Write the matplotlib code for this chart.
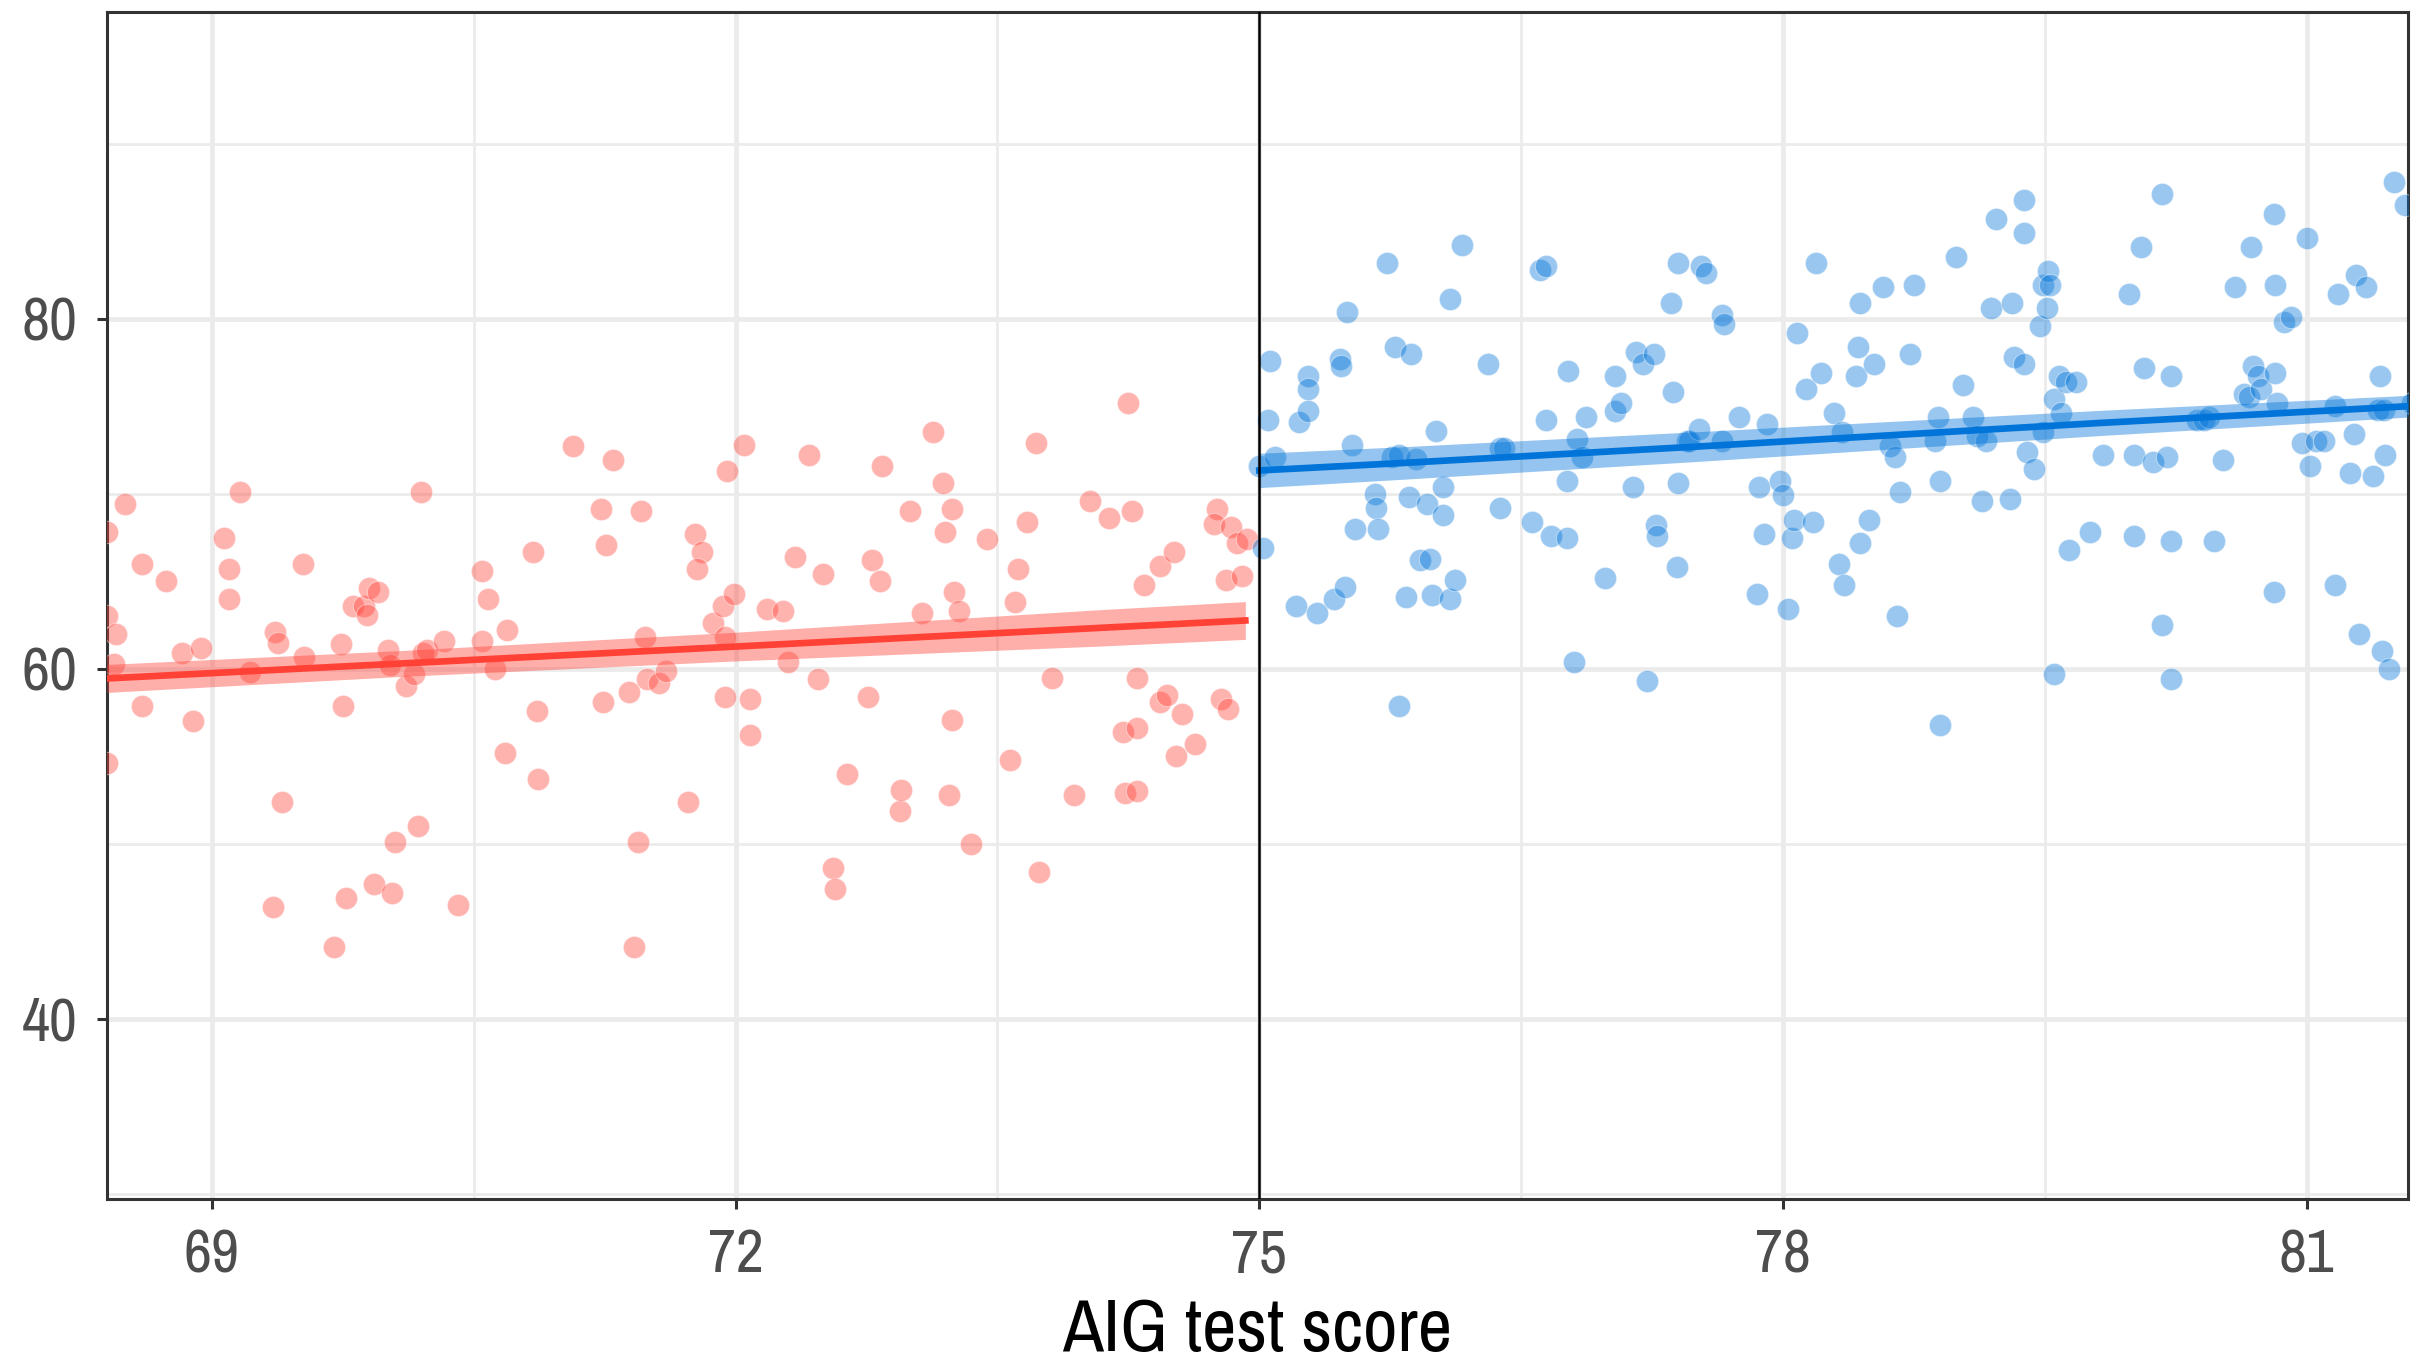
import numpy as np
import matplotlib.pyplot as plt
from matplotlib.ticker import MultipleLocator
from matplotlib import font_manager

# below cutoff (red)
below_x = [68.40, 68.40, 68.45, 68.44, 68.50, 68.60, 68.60, 68.40, 68.74, 68.83, 68.89, 68.94,
           69.07, 69.10, 69.10, 69.16, 69.22, 69.36, 69.38, 69.35, 69.40, 69.53, 69.52, 69.70,
           69.74, 69.75, 69.77, 69.81, 69.87, 69.89, 69.90, 69.95, 69.93, 70.01, 70.02, 70.03,
           70.05, 70.11, 70.16, 70.18, 70.20, 70.21, 70.23, 70.33, 70.41, 70.55, 70.58, 70.55,
           70.62, 70.68, 70.69, 70.84, 70.86, 70.87, 71.07, 71.23, 71.26, 71.24, 71.30, 71.39,
           71.44, 71.42, 71.46, 71.48, 71.49, 71.56, 71.60, 71.73, 71.77, 71.81, 71.78, 71.87,
           71.94, 71.93, 71.94, 71.95, 71.99, 72.05, 72.08, 72.08, 72.18, 72.27, 72.30, 72.34,
           72.42, 72.47, 72.50, 72.56, 72.57, 72.64, 72.76, 72.78, 72.83, 72.84, 72.94, 72.95,
           73.00, 73.07, 73.13, 73.19, 73.20, 73.22, 73.24, 73.24, 73.25, 73.28, 73.35, 73.44,
           73.57, 73.60, 73.62, 73.67, 73.72, 73.74, 73.81, 73.94, 74.03, 74.14, 74.22, 74.23,
           74.25, 74.27, 74.30, 74.30, 74.30, 74.34, 74.43, 74.43, 74.47, 74.51, 74.52, 74.56,
           74.63, 74.76, 74.74, 74.78, 74.81, 74.82, 74.84, 74.87, 74.90, 74.93]
below_y = [67.8, 63.0, 62.0, 60.3, 69.4, 66.0, 57.9, 54.6, 65.0, 60.9, 57.0, 61.2,
           67.5, 65.7, 64.0, 70.1, 59.8, 62.1, 61.5, 46.4, 52.4, 60.7, 66.0, 44.1,
           61.4, 57.9, 46.9, 63.6, 63.6, 63.1, 64.6, 64.4, 47.7, 61.1, 60.2, 47.2,
           50.1, 59.0, 59.7, 51.0, 70.1, 60.9, 61.1, 61.6, 46.5, 65.6, 64.0, 61.6,
           60.0, 55.2, 62.2, 66.7, 57.6, 53.7, 72.7, 69.1, 67.1, 58.1, 71.9, 58.7,
           50.1, 44.1, 69.0, 61.8, 59.4, 59.2, 59.9, 52.4, 67.7, 66.7, 65.7, 62.6,
           61.8, 63.6, 58.4, 71.3, 64.3, 72.8, 56.2, 58.3, 63.4, 63.3, 60.4, 66.4,
           72.2, 59.4, 65.4, 48.6, 47.4, 54.0, 58.4, 66.2, 65.0, 71.6, 51.9, 53.1,
           69.0, 63.2, 73.5, 70.6, 67.8, 52.8, 57.1, 69.1, 64.4, 63.3, 50.0, 67.4,
           54.8, 63.8, 65.7, 68.4, 72.9, 48.4, 59.5, 52.8, 69.6, 68.6, 56.4, 52.9,
           75.2, 69.0, 56.6, 53.0, 59.5, 64.8, 65.9, 58.1, 58.5, 66.7, 55.0, 57.4,
           55.7, 69.1, 68.3, 58.3, 65.1, 57.7, 68.1, 67.2, 65.3, 67.4]

# above cutoff (blue)
above_x = [75.00, 75.02, 75.05, 75.06, 75.09, 75.21, 75.23, 75.28, 75.28, 75.28, 75.33, 75.43,
           75.46, 75.47, 75.49, 75.50, 75.53, 75.55, 75.66, 75.67, 75.68, 75.73, 75.76, 75.78,
           75.80, 75.80, 75.84, 75.86, 75.87, 75.90, 75.92, 75.96, 75.98, 75.99, 76.01, 76.05,
           76.05, 76.09, 76.09, 76.12, 76.16, 76.31, 76.38, 76.40, 76.38, 76.56, 76.61, 76.64,
           76.64, 76.67, 76.76, 76.76, 76.77, 76.80, 76.82, 76.85, 76.87, 76.98, 77.04, 77.04,
           77.07, 77.14, 77.16, 77.20, 77.22, 77.26, 77.27, 77.28, 77.36, 77.37, 77.39, 77.40,
           77.40, 77.45, 77.46, 77.52, 77.53, 77.56, 77.65, 77.66, 77.65, 77.75, 77.85, 77.86,
           77.89, 77.91, 77.98, 78.00, 78.03, 78.05, 78.06, 78.08, 78.13, 78.17, 78.19, 78.22,
           78.29, 78.32, 78.34, 78.35, 78.42, 78.43, 78.44, 78.44, 78.49, 78.52, 78.57, 78.61,
           78.64, 78.65, 78.67, 78.73, 78.75, 78.87, 78.89, 78.90, 78.90, 78.99, 79.03, 79.09,
           79.11, 79.14, 79.16, 79.19, 79.22, 79.30, 79.31, 79.32, 79.38, 79.38, 79.38, 79.40,
           79.44, 79.47, 79.49, 79.49, 79.51, 79.52, 79.53, 79.55, 79.55, 79.58, 79.59, 79.62,
           79.64, 79.68, 79.76, 79.83, 79.98, 80.01, 80.01, 80.05, 80.07, 80.12, 80.17, 80.17,
           80.20, 80.22, 80.22, 80.22, 80.37, 80.41, 80.44, 80.47, 80.52, 80.59, 80.64, 80.67,
           80.68, 80.69, 80.72, 80.74, 80.81, 80.81, 80.82, 80.82, 80.83, 80.87, 80.91, 80.97,
           81.00, 81.02, 81.05, 81.10, 81.16, 81.16, 81.18, 81.25, 81.27, 81.28, 81.30, 81.34,
           81.38, 81.41, 81.42, 81.44, 81.43, 81.45, 81.47, 81.50, 81.56, 81.60]
above_y = [71.6, 66.9, 74.2, 77.6, 72.1, 63.6, 74.1, 76.7, 76.0, 74.7, 63.2, 64.0,
           77.7, 77.3, 64.7, 80.4, 72.8, 68.0, 70.0, 69.2, 68.0, 83.2, 72.1, 78.4,
           57.9, 72.2, 64.1, 69.8, 78.0, 72.0, 66.2, 69.4, 66.3, 64.2, 73.6, 70.4,
           68.8, 81.1, 64.0, 65.1, 84.2, 77.4, 72.6, 72.6, 69.2, 68.4, 82.8, 83.0,
           74.2, 67.6, 70.7, 67.5, 77.0, 60.4, 73.1, 72.1, 74.4, 65.2, 74.7, 76.7,
           75.2, 70.4, 78.1, 77.4, 59.3, 78.0, 68.2, 67.6, 80.9, 75.8, 65.8, 83.2,
           70.6, 73.0, 73.0, 73.7, 83.0, 82.6, 80.2, 79.7, 73.0, 74.4, 64.3, 70.4,
           67.7, 74.0, 70.7, 69.9, 63.4, 67.5, 68.5, 79.2, 76.0, 68.4, 83.2, 76.9,
           74.6, 66.0, 73.5, 64.8, 76.7, 78.4, 67.2, 80.9, 68.5, 77.4, 81.8, 72.7,
           72.1, 63.0, 70.1, 78.0, 81.9, 73.0, 74.4, 70.7, 56.8, 83.5, 76.2, 74.4,
           73.3, 69.6, 73.0, 80.6, 85.7, 69.7, 80.9, 77.8, 86.8, 84.9, 77.4, 72.4,
           71.4, 79.6, 81.9, 73.5, 80.6, 82.7, 81.9, 75.4, 59.7, 76.7, 74.6, 76.4,
           66.8, 76.4, 67.8, 72.2, 81.4, 72.2, 67.6, 84.1, 77.2, 71.8, 62.5, 87.1,
           72.1, 76.7, 67.3, 59.4, 74.2, 74.2, 74.4, 67.3, 71.9, 81.8, 75.7, 75.5,
           84.1, 77.3, 76.7, 76.0, 64.4, 86.0, 81.9, 76.9, 75.2, 79.8, 80.1, 72.9,
           84.6, 71.6, 73.0, 73.0, 75.0, 64.8, 81.4, 71.2, 73.4, 82.5, 62.0, 81.8,
           71.0, 74.8, 76.7, 74.8, 61.0, 72.2, 60.0, 87.8, 86.5, 75.2]

# fitted lines and 95% band half-widths
below_fit_x = [68.40, 70.08, 72.00, 74.09, 74.92]
below_fit_y = [59.45, 60.30, 61.27, 62.34, 62.76]
below_fit_hw = [0.80, 0.74, 0.82, 1.04, 1.08]
above_fit_x = [75.00, 75.81, 77.50, 79.81, 81.58]
above_fit_y = [71.33, 71.75, 72.69, 74.04, 75.00]
above_fit_hw = [0.98, 0.93, 0.85, 0.72, 0.62]

cutoff = 75
x_ticks = [69, 72, 75, 78, 81]
y_ticks = [40, 60, 80]

RED = "#FF4136"
BLUE = "#0074D9"

names = sorted({f.name for f in font_manager.fontManager.ttflist})
narrow = [n for n in names if "Condensed" in n or "Narrow" in n]
FONT = narrow[0] if narrow else "Roboto"
plt.rcParams["font.family"] = [FONT, "DejaVu Sans"]

fig = plt.figure(figsize=(2417 / 200, 1369 / 200), dpi=200)
ax = fig.add_axes([0.0443, 0.124, 0.952, 0.867])

groups = [
    (below_x, below_y, below_fit_x, below_fit_y, below_fit_hw, RED),
    (above_x, above_y, above_fit_x, above_fit_y, above_fit_hw, BLUE),
]
for xv, yv, fx, fy, hw, col in groups:
    ax.scatter(xv, yv, s=64, color=col, alpha=0.4, edgecolors="white", linewidths=0.4, zorder=3)
    fy = np.array(fy)
    hw = np.array(hw)
    ax.fill_between(fx, fy - hw, fy + hw, color=col, alpha=0.42, linewidth=0, zorder=4)
    ax.plot(fx, fy, color=col, linewidth=2.4, zorder=5)

ax.axvline(cutoff, color="black", linewidth=0.9, zorder=6)

ax.set_xlim(68.4, 81.58)
ax.set_ylim(29.7, 97.5)
ax.set_xticks(x_ticks)
ax.set_yticks(y_ticks)
ax.xaxis.set_minor_locator(MultipleLocator(1.5))
ax.yaxis.set_minor_locator(MultipleLocator(10))

ax.grid(which="major", color="#EBEBEB", linewidth=1.7, zorder=0)
ax.grid(which="minor", color="#EBEBEB", linewidth=1.0, zorder=0)
ax.set_axisbelow(True)
for sp in ax.spines.values():
    sp.set_color("#333333")
    sp.set_linewidth(1.1)
ax.tick_params(which="major", length=3.5, width=1.1, color="#333333", labelsize=22,
               labelcolor="#4D4D4D", pad=7)
ax.tick_params(which="minor", length=0)

ax.set_xlabel("AIG test score", fontsize=27, color="black", labelpad=5)

fig.savefig("out.png", dpi=200)
